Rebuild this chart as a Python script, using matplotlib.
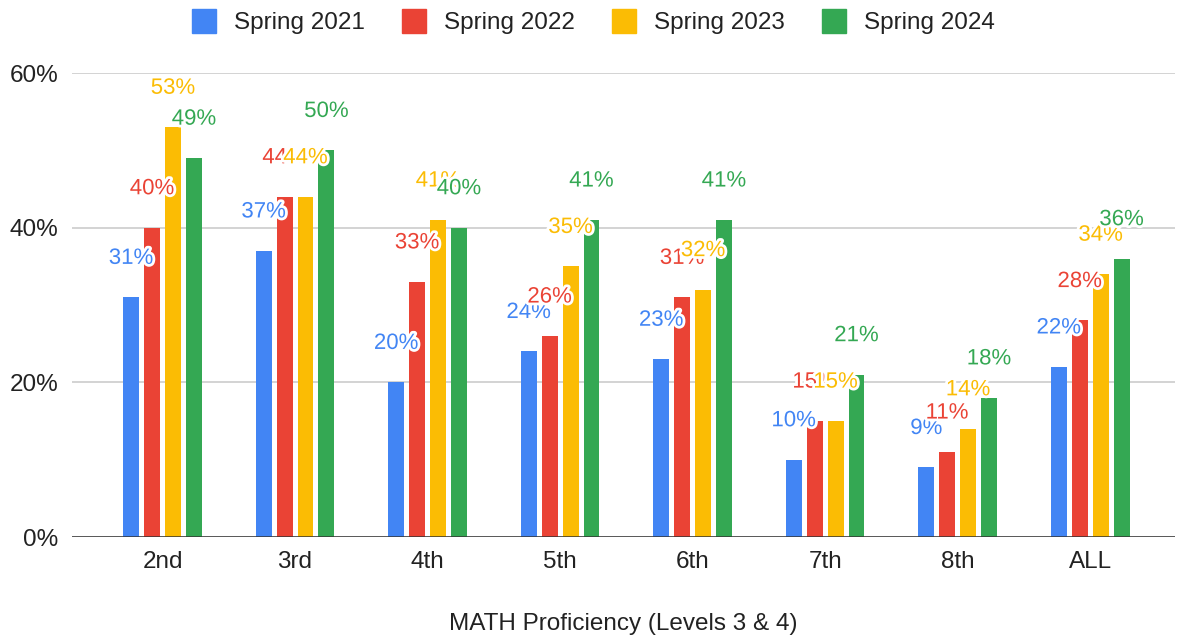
import numpy as np
import matplotlib.pyplot as plt
import matplotlib.patheffects as pe
from matplotlib.lines import Line2D

plt.rcParams['font.family'] = ['Liberation Sans', 'DejaVu Sans']

# data
grades = ['2nd', '3rd', '4th', '5th', '6th', '7th', '8th', 'ALL']
series = ['Spring 2021', 'Spring 2022', 'Spring 2023', 'Spring 2024']
spring_2021 = [31, 37, 20, 24, 23, 10, 9, 22]
spring_2022 = [40, 44, 33, 26, 31, 15, 11, 28]
spring_2023 = [53, 44, 41, 35, 32, 15, 14, 34]
spring_2024 = [49, 50, 40, 41, 41, 21, 18, 36]
values = [spring_2021, spring_2022, spring_2023, spring_2024]
colors = ['#4285F4', '#EA4335', '#FBBC04', '#34A853']

FS = 17.5      # axis / legend text
LFS = 16       # data labels
TXT = '#222222'

fig = plt.figure(figsize=(11.77, 6.37), dpi=100)
ax = fig.add_axes([72 / 1177, 100 / 637, 1103 / 1177, 464 / 637])

x = np.arange(len(grades))
bw = 0.12
step = 0.158
offsets = (np.arange(4) - 1.5) * step

for k in range(4):
    ax.bar(x + offsets[k], values[k], width=bw, color=colors[k], zorder=3)

# labels drawn series by series, later ones on top (like the original)
for k in range(4):
    for i, v in enumerate(values[k]):
        ax.annotate(f'{v}%', (x[i] + offsets[k], v), xytext=(0, 28),
                    textcoords='offset points', ha='center', va='center',
                    fontsize=LFS, color=colors[k], zorder=5,
                    path_effects=[pe.withStroke(linewidth=4, foreground='white')])

ax.set_xlim(-0.683, 7.64)
ax.set_ylim(0, 60)
ax.set_yticks([0, 20, 40, 60])
ax.set_yticklabels(['0%', '20%', '40%', '60%'])
ax.set_xticks(x)
ax.set_xticklabels(grades)
ax.tick_params(axis='both', length=0, labelsize=FS, labelcolor=TXT)
ax.tick_params(axis='x', pad=10)
ax.tick_params(axis='y', pad=10)
ax.grid(axis='y', color='#cccccc', linewidth=1.2, zorder=0)
ax.axhline(0, color='#333333', linewidth=1.8, zorder=4)
for s in ax.spines.values():
    s.set_visible(False)

ax.set_xlabel('MATH Proficiency (Levels 3 & 4)', fontsize=FS, color=TXT, labelpad=29)

handles = [Line2D([], [], marker='s', ls='', markersize=17, color=c) for c in colors]
fig.legend(handles, series, loc='upper center', bbox_to_anchor=(0.504, 1.015), ncol=4,
           frameon=False, fontsize=FS, handlelength=1.0, handletextpad=0.74,
           columnspacing=1.52, labelcolor=TXT)

plt.savefig('out.png', dpi=100)
